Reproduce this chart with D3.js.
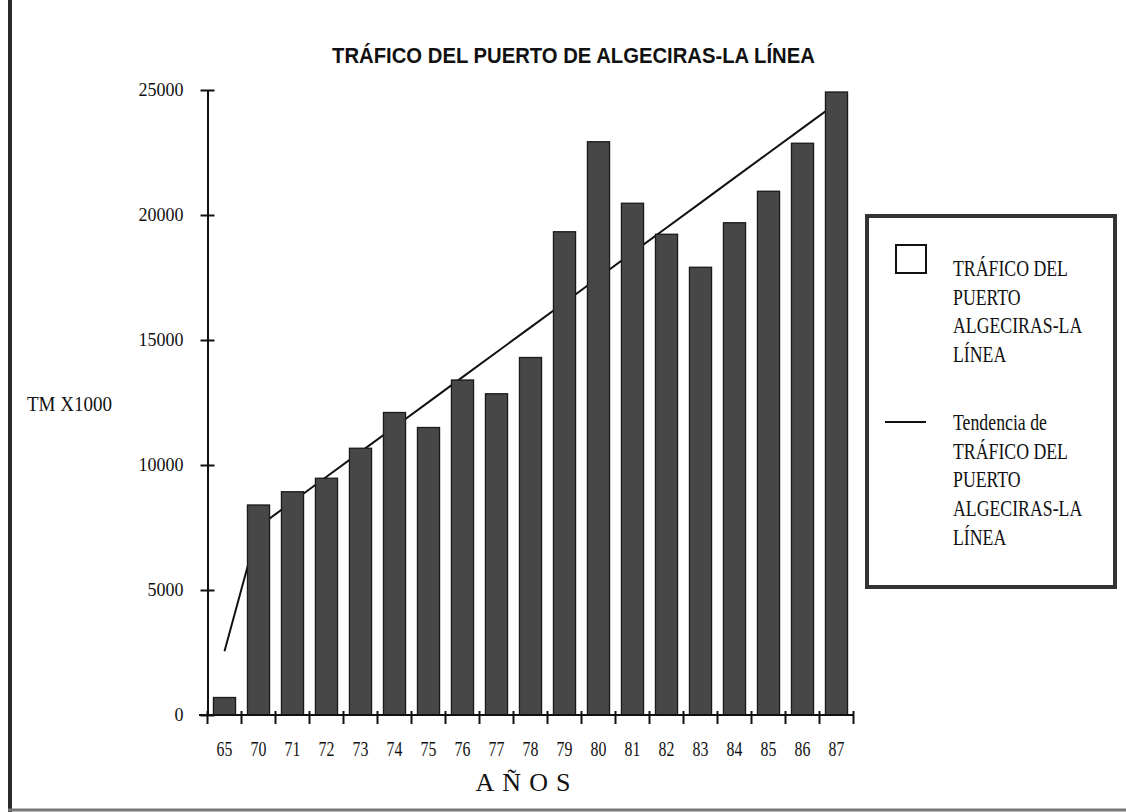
<!DOCTYPE html>
<html>
<head>
<meta charset="utf-8">
<script src="https://cdn.jsdelivr.net/npm/d3@7"></script>
<style>
  html, body { margin: 0; padding: 0; background: #fff; }
  svg { display: block; }
</style>
</head>
<body>
<svg id="chart" width="1126" height="812"></svg>
<script>
// datos (TM x1000)
const years = ['65','70','71','72','73','74','75','76','77','78','79','80','81','82','83','84','85','86','87']
const trafico = [700, 8400, 8930, 9470, 10670, 12100, 11500, 13400, 12850, 14300, 19330, 22930, 20470, 19230, 17910, 19690, 20950, 22870, 24920]
const yTicks = [0, 5000, 10000, 15000, 20000, 25000]
const legendBars = ['TRÁFICO DEL', 'PUERTO', 'ALGECIRAS-LA', 'LÍNEA']
const legendTrend = ['Tendencia de', 'TRÁFICO DEL', 'PUERTO', 'ALGECIRAS-LA', 'LÍNEA']

const serif = "'Liberation Serif', 'Times New Roman', serif"
const sans = "'Liberation Sans', Arial, sans-serif"

const svg = d3.select('#chart')
const W = 1126, H = 812

// borde del papel escaneado
svg.append('line').attr('x1', 10).attr('x2', 10).attr('y1', 0).attr('y2', H)
  .attr('stroke', '#2a2a2a').attr('stroke-width', 4)
svg.append('line').attr('x1', 8).attr('x2', W).attr('y1', 810).attr('y2', 810)
  .attr('stroke', '#777').attr('stroke-width', 3)

const x = d3.scaleBand().domain(years).range([207.5, 853.5]).paddingInner(0.35).paddingOuter(0.175)
const y = d3.scaleLinear().domain([0, 25000]).range([715, 90])

// titulo
const title = svg.append('text')
  .attr('font-family', sans).attr('font-weight', 'bold').attr('font-size', 22)
  .attr('text-anchor', 'middle').attr('fill', '#111')
  .text('TRÁFICO DEL PUERTO DE ALGECIRAS-LA LÍNEA')
const tw = title.node().getComputedTextLength()
title.attr('transform', `translate(573.5,63) scale(${483 / tw},1)`)

// tendencia: ajuste lineal sobre el año
const xs = years.map(d => +d)
const mx = d3.mean(xs), my = d3.mean(trafico)
const slope = d3.sum(xs, (v, i) => (v - mx) * (trafico[i] - my)) / d3.sum(xs, v => (v - mx) * (v - mx))
const trend = xs.map(v => my + slope * (v - mx))

svg.append('path')
  .datum(trend)
  .attr('fill', 'none').attr('stroke', '#111').attr('stroke-width', 2)
  .attr('d', d3.line().x((d, i) => x(years[i]) + x.bandwidth() / 2).y(d => y(d)))

// barras
svg.append('g').selectAll('rect')
  .data(trafico)
  .join('rect')
  .attr('x', (d, i) => x(years[i]))
  .attr('y', d => y(d))
  .attr('width', x.bandwidth())
  .attr('height', d => y(0) - y(d))
  .attr('fill', '#474747').attr('stroke', '#1a1a1a').attr('stroke-width', 1.3)

// eje Y
const yAxis = svg.append('g').attr('transform', `translate(${x.range()[0]},0)`)
  .call(d3.axisLeft(y).tickValues(yTicks).tickSize(0).tickPadding(24).tickFormat(d3.format('d')))
yAxis.select('.domain').attr('stroke', '#111').attr('stroke-width', 2)
yAxis.selectAll('.tick text').attr('font-family', serif).attr('font-size', 18).attr('fill', '#111')
yAxis.selectAll('.tick').append('line').attr('x1', -7).attr('x2', 7)
  .attr('stroke', '#111').attr('stroke-width', 2)

// eje X
const xAxis = svg.append('g').attr('transform', `translate(0,${y(0)})`)
  .call(d3.axisBottom(x).tickSize(0).tickPadding(25))
xAxis.select('.domain').remove()
xAxis.selectAll('.tick text')
  .attr('font-family', serif).attr('font-size', 22).attr('fill', '#111')
  .each(function () {
    const w = this.getComputedTextLength()
    d3.select(this).attr('textLength', w * 0.72).attr('lengthAdjust', 'spacingAndGlyphs')
  })

const step = x.step()
const x0 = x.range()[0]
svg.append('line')
  .attr('x1', x0 - 8.5).attr('x2', x.range()[1])
  .attr('y1', y(0)).attr('y2', y(0))
  .attr('stroke', '#111').attr('stroke-width', 2)
svg.append('g').selectAll('line')
  .data(d3.range(years.length + 1))
  .join('line')
  .attr('x1', i => x0 + i * step).attr('x2', i => x0 + i * step)
  .attr('y1', y(0) - 4).attr('y2', y(0) + 9)
  .attr('stroke', '#111').attr('stroke-width', 2)

// etiquetas de ejes
svg.append('text').attr('x', 527).attr('y', 791)
  .attr('text-anchor', 'middle').attr('font-family', serif).attr('font-size', 26)
  .attr('letter-spacing', 8).attr('fill', '#111')
  .text('AÑOS')
const tm = svg.append('text').attr('font-family', serif).attr('font-size', 22).attr('fill', '#111')
  .text('TM X1000')
tm.attr('transform', `translate(27,411) scale(${85 / tm.node().getComputedTextLength()},1)`)

// leyenda
const lg = svg.append('g')
lg.append('rect').attr('x', 867).attr('y', 216).attr('width', 248).attr('height', 371)
  .attr('fill', '#fff').attr('stroke', '#333').attr('stroke-width', 4)
lg.append('rect').attr('x', 896).attr('y', 245).attr('width', 30).attr('height', 28)
  .attr('fill', '#fff').attr('stroke', '#111').attr('stroke-width', 2)
lg.append('line').attr('x1', 885).attr('x2', 926).attr('y1', 422).attr('y2', 422)
  .attr('stroke', '#111').attr('stroke-width', 2)

function legendBlock (lines, top) {
  const g = lg.append('g').attr('transform', `translate(953,0) scale(0.74,1)`)
  g.selectAll('text')
    .data(lines)
    .join('text')
    .attr('x', 0)
    .attr('y', (d, i) => top + i * 28.7)
    .attr('font-family', serif).attr('font-size', 24).attr('fill', '#111')
    .text(d => d)
}
legendBlock(legendBars, 276)
legendBlock(legendTrend, 430)
</script>
</body>
</html>
